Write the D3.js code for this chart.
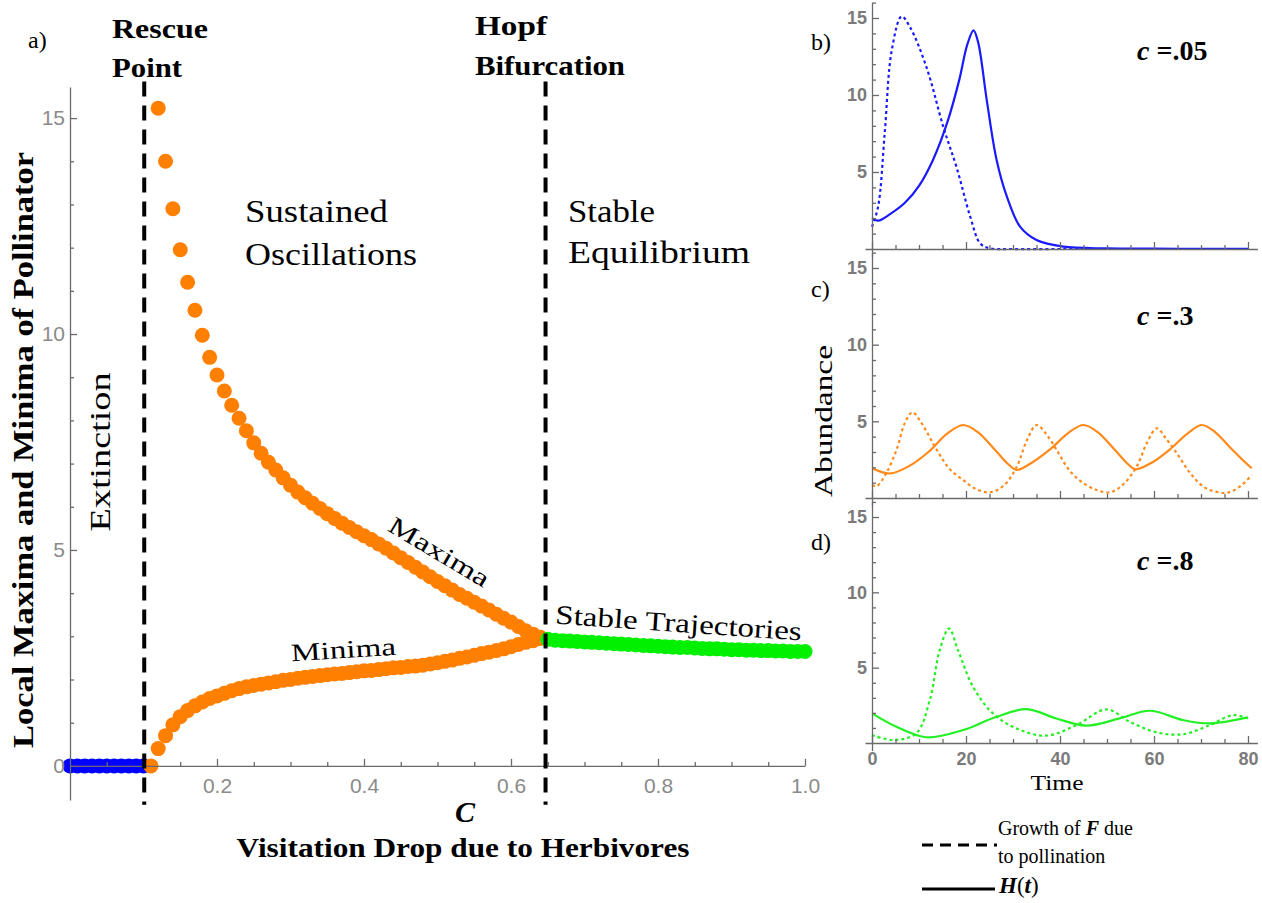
<!DOCTYPE html>
<html>
<head>
<meta charset="utf-8">
<script src="https://cdn.jsdelivr.net/npm/d3@7"></script>
<style>
body { margin: 0; background: #fff; }
svg text { font-family: "Liberation Serif", "Times New Roman", serif; fill: #000; }
.axis path, .axis line { stroke: #6a6a6a; stroke-width: 1.3; }
.main-axis .tick text { font-family: "Liberation Sans", Arial, sans-serif; font-size: 21px; fill: #8a8a8a; }
.small-axis .tick text { font-family: "Liberation Sans", Arial, sans-serif; font-size: 18px; font-weight: bold; fill: #7a7a7a; }
</style>
</head>
<body>
<svg width="1262" height="903"></svg>
<script>
// ---- bifurcation diagram (panel a) ----
var cExtinct = [0, 0.01, 0.02, 0.03, 0.04, 0.05, 0.06, 0.07, 0.08, 0.09, 0.10];
var extinctVals = [0, 0, 0, 0, 0, 0, 0, 0, 0, 0, 0];

var cMax = [0.12, 0.13, 0.14, 0.15, 0.16, 0.17, 0.18, 0.19, 0.20, 0.21, 0.22, 0.23, 0.24, 0.25, 0.26, 0.27, 0.28, 0.29,
            0.30, 0.31, 0.32, 0.33, 0.34, 0.35, 0.36, 0.37, 0.38, 0.39, 0.40, 0.41, 0.42, 0.43, 0.44, 0.45, 0.46, 0.47,
            0.48, 0.49, 0.50, 0.51, 0.52, 0.53, 0.54, 0.55, 0.56, 0.57, 0.58, 0.59, 0.60, 0.61, 0.62, 0.63, 0.64];
var maxVals = [15.23, 14.0, 12.9, 11.95, 11.2, 10.55, 9.97, 9.46, 9.05, 8.68, 8.35, 8.05, 7.76, 7.48, 7.24, 7.03, 6.85, 6.67,
               6.5, 6.34, 6.21, 6.08, 5.96, 5.84, 5.73, 5.62, 5.52, 5.42, 5.33, 5.24, 5.14, 5.04, 4.93, 4.82, 4.71, 4.6,
               4.49, 4.38, 4.27, 4.17, 4.07, 3.97, 3.88, 3.79, 3.7, 3.61, 3.51, 3.42, 3.33, 3.23, 3.13, 3.05, 2.98];

var cMin = [0.11, 0.12, 0.13, 0.14, 0.15, 0.16, 0.17, 0.18, 0.19, 0.20, 0.21, 0.22, 0.23, 0.24, 0.25, 0.26, 0.27, 0.28,
            0.29, 0.30, 0.31, 0.32, 0.33, 0.34, 0.35, 0.36, 0.37, 0.38, 0.39, 0.40, 0.41, 0.42, 0.43, 0.44, 0.45, 0.46,
            0.47, 0.48, 0.49, 0.50, 0.51, 0.52, 0.53, 0.54, 0.55, 0.56, 0.57, 0.58, 0.59, 0.60, 0.61, 0.62, 0.63, 0.64];
var minVals = [0.0, 0.4, 0.7, 0.95, 1.14, 1.28, 1.39, 1.48, 1.56, 1.62, 1.68, 1.74, 1.79, 1.83, 1.86, 1.89, 1.92, 1.95,
               1.98, 2.0, 2.03, 2.05, 2.07, 2.09, 2.11, 2.13, 2.14, 2.16, 2.18, 2.2, 2.21, 2.23, 2.25, 2.27, 2.28, 2.3,
               2.31, 2.33, 2.36, 2.39, 2.42, 2.45, 2.49, 2.52, 2.56, 2.6, 2.63, 2.67, 2.71, 2.76, 2.81, 2.86, 2.9, 2.95];

var cStable = [0.65, 0.66, 0.67, 0.68, 0.69, 0.70, 0.71, 0.72, 0.73, 0.74, 0.75, 0.76, 0.77, 0.78, 0.79, 0.80, 0.81, 0.82,
               0.83, 0.84, 0.85, 0.86, 0.87, 0.88, 0.89, 0.90, 0.91, 0.92, 0.93, 0.94, 0.95, 0.96, 0.97, 0.98, 0.99, 1.00];
var stableVals = [2.93, 2.91, 2.9, 2.89, 2.88, 2.87, 2.86, 2.85, 2.84, 2.83, 2.82, 2.81, 2.8, 2.79, 2.78, 2.77, 2.76, 2.75,
                  2.74, 2.74, 2.73, 2.72, 2.71, 2.71, 2.7, 2.69, 2.69, 2.68, 2.68, 2.67, 2.67, 2.66, 2.66, 2.65, 2.65, 2.65];

var rescueC = 0.101, hopfC = 0.647;
var xTicksMajor = [0.2, 0.4, 0.6, 0.8, 1.0];
var xTicksMinor = [0.05, 0.1, 0.15, 0.25, 0.3, 0.35, 0.45, 0.5, 0.55, 0.65, 0.7, 0.75, 0.85, 0.9, 0.95];
var yTicksMajor = [0, 5, 10, 15];
var yTicksMinor = [1, 2, 3, 4, 6, 7, 8, 9, 11, 12, 13, 14];

// ---- time series (panels b, c, d) ----
var bSolidT = [0, 1.3, 4, 7, 10, 13, 16, 18.5, 20.3, 21.6, 22.6, 24.4, 26.5, 28.7, 31.5, 35, 40.7, 50, 60, 70, 80];
var bSolidV = [2.0, 1.84, 2.3, 3.0, 4.1, 5.8, 8.2, 10.9, 13.3, 14.2, 13.4, 9.7, 5.8, 3.4, 1.45, 0.58, 0.15, 0.04, 0.02, 0.01, 0.01];
var bDotT = [0, 1.3, 2.7, 4.2, 6.3, 8.1, 11.6, 15.2, 18.0, 20.9, 23, 25, 30, 40, 50, 60, 70, 80];
var bDotV = [1.45, 2.75, 7.5, 12.9, 15.1, 14.4, 11.8, 7.9, 5.3, 2.1, 0.37, 0.05, 0, 0, 0, 0, 0, 0];

var cSolidT = [0, 3.8, 8, 12, 16, 19.4, 22.5, 26, 29, 30.8, 34, 38, 42, 45, 48, 51.5, 54.5, 56, 59.5, 63.5, 67.5, 70.2, 73, 76.5, 79.5, 80.8];
var cSolidV = [1.94, 1.6, 2.1, 3.0, 4.2, 4.76, 4.3, 3.2, 2.2, 1.83, 2.3, 3.2, 4.3, 4.76, 4.3, 3.2, 2.2, 1.87, 2.3, 3.2, 4.3, 4.76, 4.3, 3.2, 2.3, 1.94];
var cDotT = [0, 1, 3, 5.2, 7, 8.6, 10.5, 13.8, 16.5, 19.4, 22, 25.1, 28, 30.8, 33, 35, 37, 39.3, 42, 45, 48, 50.7,
             53.5, 56.3, 58.5, 60.6, 62.5, 64.9, 67.5, 70.5, 73, 75.8, 78.5, 80.8];
var cDotV = [0.85, 0.78, 1.6, 3.13, 4.9, 5.59, 4.9, 3.13, 1.9, 1.17, 0.6, 0.37, 0.8, 2.04, 3.8, 4.76, 4.2, 3.13, 1.8, 0.96, 0.5, 0.37,
             0.9, 2.04, 3.6, 4.55, 3.9, 2.9, 1.7, 0.74, 0.42, 0.35, 0.8, 1.5];

var dSolidT = [0, 5.2, 11.6, 19.4, 26.5, 32.9, 39.2, 45.6, 52.7, 59.1, 66.2, 71.9, 80];
var dSolidV = [1.97, 1.08, 0.38, 0.86, 1.74, 2.25, 1.63, 1.15, 1.63, 2.14, 1.52, 1.3, 1.7];
var dDotT = [0, 4.5, 9.4, 12.3, 14.4, 16.4, 18.3, 21.5, 25.7, 30.7, 37.1, 43.5, 49.9, 54.8, 60.5, 66.2, 71.9, 76.8, 80];
var dDotV = [0.53, 0.2, 0.64, 2.85, 6.16, 7.6, 6.16, 3.73, 1.97, 0.97, 0.49, 1.19, 2.23, 1.41, 0.71, 0.58, 1.19, 1.85, 1.63];

var tTicksMajor = [0, 20, 40, 60, 80];
var tTicksMinor = [5, 10, 15, 25, 30, 35, 45, 50, 55, 65, 70, 75];
var vTicksMajor = [5, 10, 15];
var vTicksMinor = [1, 2, 3, 4, 6, 7, 8, 9, 11, 12, 13, 14, 16];

function zip(xs, ys) { return xs.map(function(d, i) { return [d, ys[i]]; }); }

var svg = d3.select("svg");

function label(x, y, txt, size, opts) {
    opts = opts || {};
    var t = svg.append("text")
        .attr("transform", "translate(" + x + "," + y + ")" + (opts.rot ? " rotate(" + opts.rot + ")" : ""))
        .attr("text-anchor", opts.anchor || "start")
        .style("font-size", size + "px")
        .style("font-weight", opts.bold ? "bold" : "normal")
        .text(txt);
    if (opts.len) t.attr("textLength", opts.len).attr("lengthAdjust", "spacingAndGlyphs");
    return t;
}

// ---------- panel a ----------
var x = d3.scaleLinear().domain([0, 1]).range([70, 805]),
    y = d3.scaleLinear().domain([-0.79, 15.72]).range([800, 87]);

var dotR = 7.5;
function dots(cs, vs, color) {
    svg.append("g").selectAll("circle")
        .data(zip(cs, vs))
        .enter().append("circle")
        .attr("cx", function(d) { return x(d[0]); })
        .attr("cy", function(d) { return y(d[1]); })
        .attr("r", dotR)
        .attr("fill", color);
}
dots(cExtinct, extinctVals, "#0000ff");
dots(cMax, maxVals, "#ff7f00");
dots(cMin, minVals, "#ff7f00");
dots(cStable, stableVals, "#00f000");

// axes
svg.append("g").attr("class", "axis main-axis")
    .attr("transform", "translate(0," + y(0) + ")")
    .call(d3.axisBottom(x).tickValues(xTicksMajor).tickSize(-7).tickSizeOuter(0).tickPadding(12).tickFormat(d3.format(".1f")));
svg.append("g").attr("class", "axis main-axis")
    .attr("transform", "translate(0," + y(0) + ")")
    .call(d3.axisBottom(x).tickValues(xTicksMinor).tickSize(-4).tickSizeOuter(0).tickFormat(""))
    .select(".domain").remove();
svg.append("g").attr("class", "axis main-axis")
    .attr("transform", "translate(" + x(0) + ",0)")
    .call(d3.axisLeft(y).tickValues(yTicksMajor).tickSize(-7).tickSizeOuter(0).tickPadding(5));
svg.append("g").attr("class", "axis main-axis")
    .attr("transform", "translate(" + x(0) + ",0)")
    .call(d3.axisLeft(y).tickValues(yTicksMinor).tickSize(-4).tickSizeOuter(0).tickFormat(""))
    .select(".domain").remove();

// dashed markers
[rescueC, hopfC].forEach(function(c) {
    svg.append("line")
        .attr("x1", x(c)).attr("x2", x(c))
        .attr("y1", y(15.85)).attr("y2", y(-0.9))
        .attr("stroke", "#000").attr("stroke-width", 4)
        .attr("stroke-dasharray", "15,9");
});

// texts panel a
label(28, 48, "a)", 24);
label(112, 38, "Rescue", 27, {bold: true, len: 96});
label(112, 77, "Point", 27, {bold: true, len: 70});
label(475, 35, "Hopf", 27, {bold: true, len: 72});
label(475, 75, "Bifurcation", 27, {bold: true, len: 150});
label(245, 222, "Sustained", 31, {len: 143});
label(245, 265, "Oscillations", 31, {len: 172});
label(568, 222, "Stable", 31, {len: 87});
label(568, 263, "Equilibrium", 31, {len: 182});
label(110, 452, "Extinction", 29, {rot: -90, anchor: "middle", len: 159});
label(33, 450, "Local Maxima and Minima of Pollinator", 30, {rot: -90, anchor: "middle", bold: true, len: 596});
label(435, 559, "Maxima", 25, {rot: 31, anchor: "middle", len: 113});
label(344, 658, "Minima", 25, {rot: -3.6, anchor: "middle", len: 105});
label(678, 632, "Stable Trajectories", 27, {rot: 3.9, anchor: "middle", len: 247});
label(465, 822, "C", 30, {anchor: "middle", bold: true}).style("font-style", "italic");
label(463, 857, "Visitation Drop due to Herbivores", 28, {anchor: "middle", bold: true, len: 453});

// ---------- panels b, c, d ----------
var xs = d3.scaleLinear().domain([0, 80]).range([872, 1248]);
var panels = [
    {tag: "b)", tagY: 50, cText: ".05", cY: 60, y0: 249, y15: 18, color: "#1a1aff", solid: zip(bSolidT, bSolidV), dot: zip(bDotT, bDotV), labels: false},
    {tag: "c)", tagY: 297, cText: ".3", cY: 325, y0: 498, y15: 268, color: "#ff8a1a", solid: zip(cSolidT, cSolidV), dot: zip(cDotT, cDotV), labels: false},
    {tag: "d)", tagY: 550, cText: ".8", cY: 570, y0: 743, y15: 517, color: "#22f022", solid: zip(dSolidT, dSolidV), dot: zip(dDotT, dDotV), labels: true}
];

panels.forEach(function(p) {
    var ys = d3.scaleLinear().domain([0, 15]).range([p.y0, p.y15]);
    var yAx = ys.copy().domain([-0.5, 16]).range([ys(-0.5), ys(16)]);
    var xAx = xs.copy().domain([-1.5, 82]).range([xs(-1.5), xs(82)]);

    var line = d3.line()
        .curve(d3.curveCatmullRom.alpha(0.5))
        .x(function(d) { return xs(d[0]); })
        .y(function(d) { return ys(d[1]); });

    svg.append("path").datum(p.dot)
        .attr("d", line).attr("fill", "none")
        .attr("stroke", p.color).attr("stroke-width", 2.2)
        .attr("stroke-dasharray", "3,3");
    svg.append("path").datum(p.solid)
        .attr("d", line).attr("fill", "none")
        .attr("stroke", p.color).attr("stroke-width", 2.2);

    svg.append("g").attr("class", "axis small-axis")
        .attr("transform", "translate(0," + p.y0 + ")")
        .call(d3.axisBottom(xAx).tickValues(tTicksMajor).tickSize(-7).tickSizeOuter(0).tickPadding(9)
            .tickFormat(p.labels ? d3.format("d") : ""));
    svg.append("g").attr("class", "axis small-axis")
        .attr("transform", "translate(0," + p.y0 + ")")
        .call(d3.axisBottom(xAx).tickValues(tTicksMinor).tickSize(-4).tickSizeOuter(0).tickFormat(""))
        .select(".domain").remove();
    svg.append("g").attr("class", "axis small-axis")
        .attr("transform", "translate(" + xs(0) + ",0)")
        .call(d3.axisLeft(yAx).tickValues(vTicksMajor).tickSize(-7).tickSizeOuter(0).tickPadding(5));
    svg.append("g").attr("class", "axis small-axis")
        .attr("transform", "translate(" + xs(0) + ",0)")
        .call(d3.axisLeft(yAx).tickValues(vTicksMinor).tickSize(-4).tickSizeOuter(0).tickFormat(""))
        .select(".domain").remove();

    label(811, p.tagY, p.tag, 24);
    var ct = svg.append("text")
        .attr("x", 1137).attr("y", p.cY)
        .style("font-size", "28px").style("font-weight", "bold");
    ct.append("tspan").style("font-style", "italic").text("c");
    ct.append("tspan").text(" =" + p.cText);
});

label(832, 421, "Abundance", 26, {rot: -90, anchor: "middle", len: 152});
label(1057, 790, "Time", 21, {anchor: "middle", len: 53});

// legend
svg.append("line").attr("x1", 922).attr("x2", 997).attr("y1", 845).attr("y2", 845)
    .attr("stroke", "#000").attr("stroke-width", 3).attr("stroke-dasharray", "11,7");
svg.append("line").attr("x1", 922).attr("x2", 995).attr("y1", 889).attr("y2", 889)
    .attr("stroke", "#000").attr("stroke-width", 3);
var lg = svg.append("text").attr("x", 998).attr("y", 835).style("font-size", "20px");
lg.append("tspan").text("Growth of ");
lg.append("tspan").style("font-style", "italic").style("font-weight", "bold").text("F");
lg.append("tspan").text(" due");
label(998, 863, "to pollination", 20);
var ht = svg.append("text").attr("x", 999).attr("y", 893).style("font-size", "23px");
ht.append("tspan").style("font-style", "italic").style("font-weight", "bold").text("H");
ht.append("tspan").text("(");
ht.append("tspan").style("font-style", "italic").style("font-weight", "bold").text("t");
ht.append("tspan").text(")");
</script>
</body>
</html>
